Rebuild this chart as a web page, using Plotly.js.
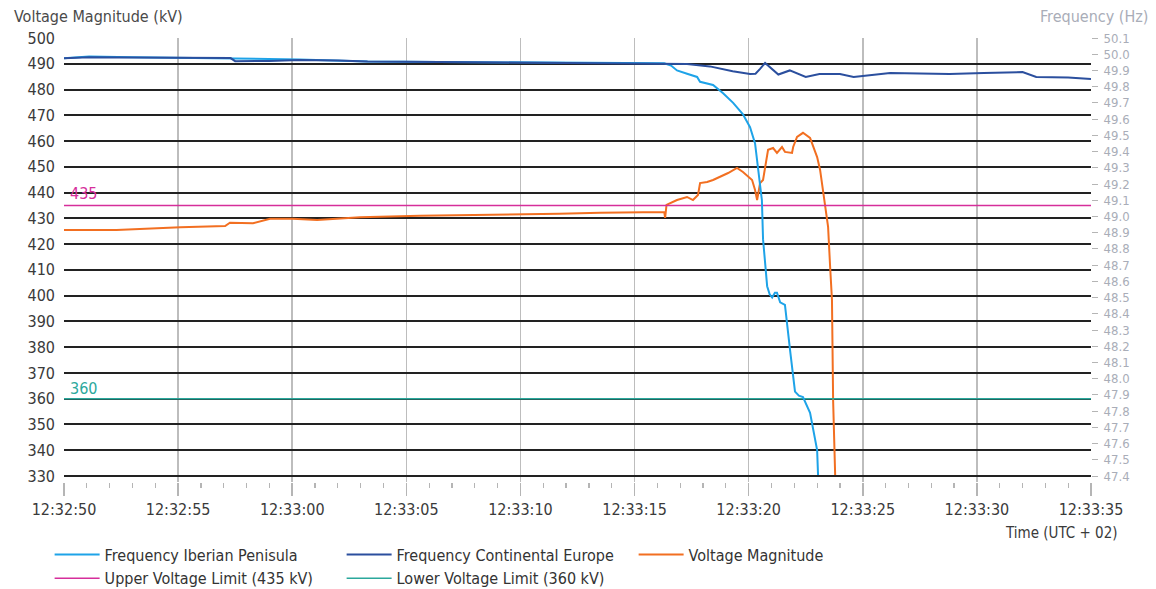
<!DOCTYPE html>
<html>
<head>
<meta charset="utf-8">
<script src="https://cdn.plot.ly/plotly-3.0.1.min.js"></script>
<style>html,body{margin:0;padding:0;background:#fff;}#chart{width:1156px;height:589px;}</style>
</head>
<body>
<div id="chart"></div>
<script>
// seconds after 12:32:50
const iberianT = [0, 1.1, 3, 6, 8, 10.3, 13.3, 16, 19, 22, 24.5, 26.3, 26.6, 26.86, 27.3, 27.74, 27.87, 28.44, 28.88, 29.32, 29.75, 30.06, 30.28, 30.41, 30.5, 30.58, 30.63, 30.81, 30.92, 31.03, 31.15, 31.24, 31.38, 31.59, 31.81, 32.03, 32.2, 32.38, 32.69, 33.0, 33.04];
const iberianHz = [49.975, 49.986, 49.982, 49.975, 49.972, 49.968, 49.955, 49.952, 49.95, 49.948, 49.946, 49.944, 49.93, 49.9, 49.88, 49.86, 49.83, 49.81, 49.76, 49.7, 49.63, 49.55, 49.45, 49.3, 49.21, 49.1, 48.86, 48.57, 48.52, 48.5, 48.53, 48.53, 48.47, 48.455, 48.18, 47.92, 47.895, 47.887, 47.79, 47.56, 47.406];

const continentalT = [0, 1.1, 5, 7.3, 7.5, 9, 10.3, 12, 13.3, 16, 19, 22, 26.3, 27.3, 28.3, 29.3, 30.06, 30.3, 30.5, 30.72, 31.3, 31.8, 32.5, 33.1, 34, 34.6, 36.2, 38.8, 40.3, 42.0, 42.6, 44, 45];
const continentalHz = [49.975, 49.982, 49.978, 49.976, 49.957, 49.958, 49.965, 49.962, 49.955, 49.952, 49.95, 49.947, 49.944, 49.94, 49.925, 49.895, 49.878, 49.88, 49.91, 49.946, 49.875, 49.9, 49.86, 49.878, 49.878, 49.86, 49.884, 49.878, 49.884, 49.89, 49.86, 49.857, 49.848];

const voltageT = [0, 2.3, 5.1, 7.06, 7.27, 8.28, 9.03, 10.03, 11.09, 12.09, 12.97, 15.6, 19.1, 21.7, 23.5, 26.3, 26.34, 26.4, 26.86, 27.3, 27.56, 27.78, 27.87, 28.18, 28.44, 28.75, 29.1, 29.49, 29.75, 30.15, 30.28, 30.37, 30.5, 30.63, 30.85, 31.07, 31.24, 31.46, 31.59, 31.9, 31.95, 32.12, 32.38, 32.69, 33.0, 33.13, 33.26, 33.48, 33.57, 33.65, 33.7, 33.79];
const voltageKV = [425.5, 425.5, 426.5, 427.0, 428.3, 428.1, 429.8, 429.8, 429.4, 429.8, 430.4, 431.0, 431.3, 431.8, 432.2, 432.5, 430.2, 435.2, 437.1, 438.3, 437.1, 439.1, 443.7, 444.1, 444.9, 446.1, 447.6, 449.6, 448.0, 444.9, 441.0, 437.1, 443.7, 444.9, 456.6, 457.3, 455.4, 457.7, 455.8, 455.4, 457.7, 461.6, 463.2, 461.2, 453.8, 448.8, 441.0, 426.7, 411.1, 398.3, 359.5, 330.4];

const limitT = [0, 45];
const upperLimit = [435, 435];
const lowerLimit = [360, 360];

const xTickStart = 0, xTickEnd = 45;

function toTime(s) {
  const total = 50 + s;              // seconds after 12:32:00
  const m = 32 + Math.floor(total / 60);
  const sec = total - 60 * Math.floor(total / 60);
  const ss = sec.toFixed(3).padStart(6, '0');
  return '2025-04-28 12:' + String(m).padStart(2, '0') + ':' + ss;
}

const FONT = 'DejaVu Sans Condensed, Liberation Sans Narrow, sans-serif';
const C_IB = '#1ea3e8', C_CE = '#2b4f9e', C_V = '#f26f21', C_UP = '#d62e9b', C_LO = '#2ba89c';

const traces = [
  {x: iberianT.map(toTime), y: iberianHz, yaxis: 'y2', mode: 'lines', name: 'Frequency Iberian Penisula', line: {color: C_IB, width: 2}},
  {x: continentalT.map(toTime), y: continentalHz, yaxis: 'y2', mode: 'lines', name: 'Frequency Continental Europe', line: {color: C_CE, width: 2}},
  {x: voltageT.map(toTime), y: voltageKV, mode: 'lines', name: 'Voltage Magnitude', line: {color: C_V, width: 2}},
  {x: limitT.map(toTime), y: upperLimit, mode: 'lines', name: 'Upper Voltage Limit (435 kV)', line: {color: C_UP, width: 1.6}},
  {x: limitT.map(toTime), y: lowerLimit, mode: 'lines', name: 'Lower Voltage Limit (360 kV)', line: {color: C_LO, width: 1.6}}
];

const layout = {
  width: 1156, height: 589,
  margin: {l: 64, r: 65, t: 38, b: 107, autoexpand: false},
  paper_bgcolor: '#fff', plot_bgcolor: '#fff',
  font: {family: FONT, color: '#3a3a3a', size: 16},
  showlegend: true,
  legend: {orientation: 'h', x: -0.014, y: -0.125, xanchor: 'left', yanchor: 'top',
           entrywidth: 232, entrywidthmode: 'pixels', itemwidth: 45,
           font: {family: FONT, size: 16, color: '#333'}, traceorder: 'normal'},
  xaxis: {
    type: 'date', range: [toTime(xTickStart), toTime(xTickEnd)],
    tickformat: '%H:%M:%S', dtick: 5000, tick0: toTime(0),
    showgrid: true, gridcolor: '#bdbdbd', gridwidth: 1.5,
    ticks: 'outside', ticklen: 13, tickcolor: '#b5b5b5', tickwidth: 1.5,
    ticklabelstandoff: 0,
    minor: {dtick: 1000, ticks: 'outside', ticklen: 5, tickcolor: '#b5b5b5', tickwidth: 1.2, showgrid: false},
    showline: false, zeroline: false,
    tickfont: {family: FONT, size: 16, color: '#3a3a3a'}
  },
  yaxis: {
    range: [327.67, 500], tick0: 330, dtick: 10,
    showgrid: true, gridcolor: '#222', gridwidth: 2,
    zeroline: false, showline: false, ticks: '',
    ticklabelstandoff: 8,
    tickfont: {family: FONT, size: 16, color: '#3a3a3a'}
  },
  yaxis2: {
    overlaying: 'y', side: 'right', range: [47.363, 50.1],
    tick0: 47.4, dtick: 0.1, tickformat: '.1f',
    showgrid: false, zeroline: false, showline: false,
    ticks: 'outside', ticklen: 6, tickcolor: '#b5b5b5', tickwidth: 1,
    ticklabelstandoff: 3,
    tickfont: {family: FONT, size: 13, color: '#a9adb8'}
  },
  annotations: [
    {text: 'Voltage Magnitude (kV)', xref: 'paper', yref: 'paper', x: -0.0506, y: 1.0495, xanchor: 'left', yanchor: 'middle', showarrow: false, font: {family: FONT, size: 16, color: '#4a4a4a'}},
    {text: 'Frequency (Hz)', xref: 'paper', yref: 'paper', x: 1.0574, y: 1.0495, xanchor: 'right', yanchor: 'middle', showarrow: false, font: {family: FONT, size: 16, color: '#a9adb8'}},
    {text: 'Time (UTC + 02)', xref: 'paper', yref: 'paper', x: 1.0282, y: -0.1149, xanchor: 'right', yanchor: 'middle', showarrow: false, font: {family: FONT, size: 15, color: '#3a3a3a'}},
    {text: '435', xref: 'paper', yref: 'y', x: 0.004, y: 435, xanchor: 'left', yanchor: 'middle', yshift: 12, showarrow: false, font: {family: FONT, size: 16, color: C_UP}},
    {text: '360', xref: 'paper', yref: 'y', x: 0.004, y: 360, xanchor: 'left', yanchor: 'middle', yshift: 10, showarrow: false, font: {family: FONT, size: 16, color: C_LO}}
  ]
};

Plotly.newPlot('chart', traces, layout, {displayModeBar: false, staticPlot: true});
</script>
</body>
</html>
